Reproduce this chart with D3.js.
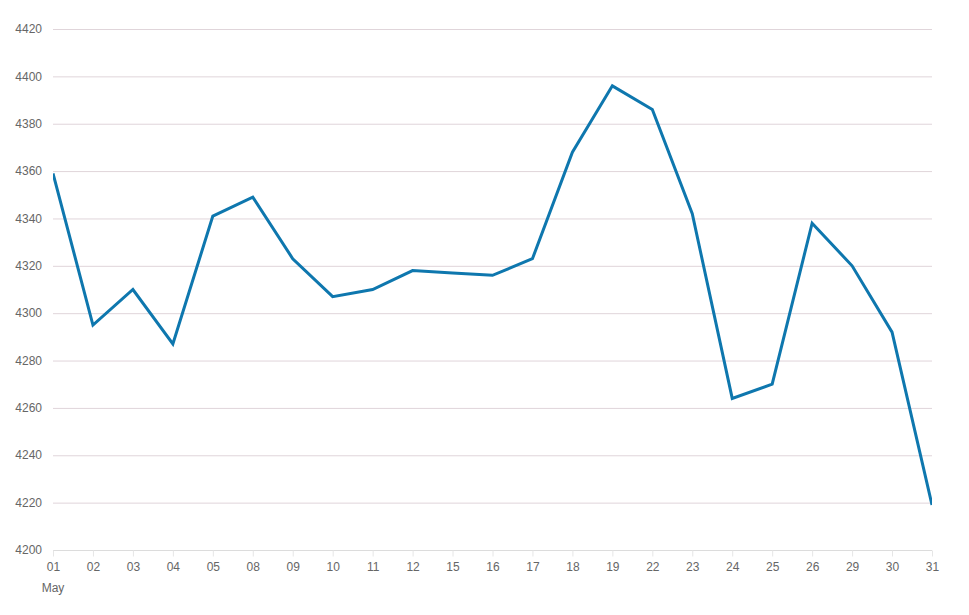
<!DOCTYPE html>
<html><head><meta charset="utf-8">
<script src="https://cdn.jsdelivr.net/npm/d3@7"></script>
<style>body{margin:0;background:#fff;}svg{display:block;font-family:"Liberation Sans",Arial,sans-serif;}</style>
</head><body><svg id="c" width="969" height="615"></svg>
<script>
const categories = ["01","02","03","04","05","08","09","10","11","12","15","16","17","18","19","22","23","24","25","26","29","30","31"];
const values = [4359,4295,4310,4287,4341,4349,4323,4307,4310,4318,4317,4316,4323,4368,4396,4386,4342,4264,4270,4338,4320,4292,4219];
const yTicks = [4200,4220,4240,4260,4280,4300,4320,4340,4360,4380,4400,4420];
const monthLabel = "May";

const svg = d3.select("#c");
const m = {l:53, r:37, t:29, b:65};
const W = 969, H = 615;
const x = d3.scalePoint().domain(categories).range([m.l, W - m.r]);
const y = d3.scaleLinear().domain([4200, 4420]).range([H - m.b, m.t]);

svg.append("defs").append("clipPath").attr("id", "plot")
  .append("rect").attr("x", m.l).attr("y", 0).attr("width", W - m.r - m.l).attr("height", H);

// grid
svg.append("g").selectAll("line").data(yTicks.slice(1)).join("line")
  .attr("x1", m.l).attr("x2", W - m.r)
  .attr("y1", d => y(d) + 0.5).attr("y2", d => y(d) + 0.5)
  .attr("stroke", "#e0d5da").attr("stroke-width", 1);

// y labels
svg.append("g").selectAll("text").data(yTicks).join("text")
  .attr("x", 42).attr("y", d => y(d)).attr("dy", "0.35em")
  .attr("text-anchor", "end").attr("fill", "#666").attr("font-size", 12)
  .text(d => d);

// x axis
const xa = d3.axisBottom(x).tickSize(6).tickPadding(6);
const gx = svg.append("g").attr("transform", `translate(0,${y(4200) + 0.5})`).call(xa);
gx.select(".domain").attr("stroke", "#dcdcdc").attr("d", `M${m.l},0H${W - m.r}`);
gx.selectAll(".tick line").attr("stroke", "#e6e6e6");
gx.selectAll(".tick text").attr("fill", "#666").attr("font-size", 12).attr("font-family", "'Liberation Sans',Arial,sans-serif");
svg.append("text").attr("x", x(categories[0])).attr("y", 592)
  .attr("text-anchor", "middle").attr("fill", "#666").attr("font-size", 12).text(monthLabel);

// line
svg.append("path").datum(values)
  .attr("clip-path", "url(#plot)")
  .attr("fill", "none").attr("stroke", "#0e77ae").attr("stroke-width", 3)
  .attr("stroke-linejoin", "miter")
  .attr("d", d3.line().x((d, i) => x(categories[i])).y(d => y(d)));
</script></body></html>
